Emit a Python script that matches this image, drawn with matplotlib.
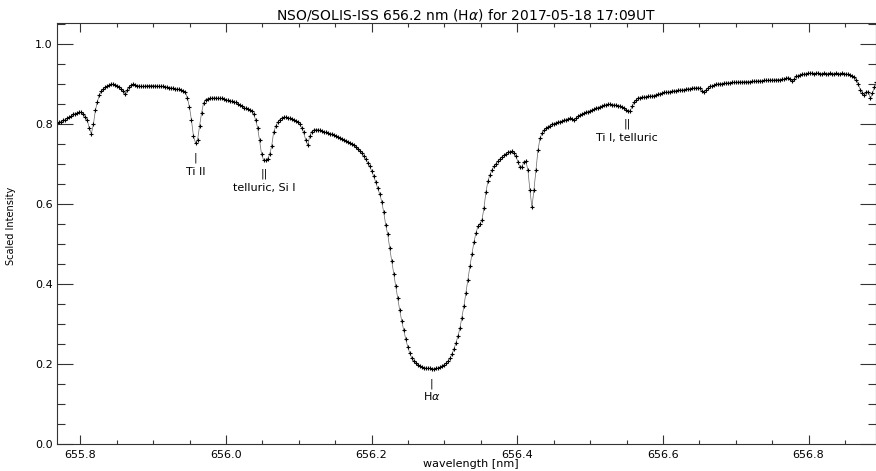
import numpy as np
import matplotlib
matplotlib.use("Agg")
import matplotlib.pyplot as plt
from matplotlib.ticker import MultipleLocator

# Hα spectrum: evenly sampled wavelength grid, scaled intensity per sample
wl_start = 655.7684   # nm
wl_step = 0.00275     # nm per sample
intensity = [
    0.804, 0.806, 0.807, 0.810, 0.812, 0.816, 0.818, 0.821, 0.825, 0.827,
    0.829, 0.831, 0.830, 0.825, 0.819, 0.810, 0.790, 0.777, 0.800, 0.835,
    0.857, 0.874, 0.883, 0.889, 0.893, 0.896, 0.898, 0.900, 0.900, 0.899,
    0.897, 0.894, 0.889, 0.883, 0.875, 0.886, 0.894, 0.898, 0.900, 0.899,
    0.897, 0.896, 0.895, 0.895, 0.896, 0.897, 0.897, 0.897, 0.897, 0.896,
    0.896, 0.895, 0.895, 0.895, 0.894, 0.893, 0.892, 0.891, 0.890, 0.889,
    0.888, 0.888, 0.886, 0.884, 0.880, 0.865, 0.843, 0.810, 0.770, 0.754,
    0.760, 0.795, 0.828, 0.853, 0.862, 0.864, 0.865, 0.865, 0.866, 0.866,
    0.865, 0.865, 0.865, 0.864, 0.862, 0.860, 0.859, 0.858, 0.856, 0.855,
    0.852, 0.849, 0.846, 0.842, 0.840, 0.838, 0.836, 0.834, 0.826, 0.812,
    0.792, 0.760, 0.725, 0.711, 0.710, 0.714, 0.725, 0.745, 0.780, 0.795,
    0.805, 0.812, 0.816, 0.818, 0.818, 0.817, 0.815, 0.813, 0.811, 0.809,
    0.807, 0.800, 0.792, 0.780, 0.762, 0.748, 0.770, 0.782, 0.786, 0.787,
    0.787, 0.785, 0.783, 0.782, 0.780, 0.779, 0.777, 0.776, 0.774, 0.772,
    0.769, 0.766, 0.764, 0.761, 0.759, 0.756, 0.754, 0.751, 0.748, 0.744,
    0.739, 0.734, 0.728, 0.721, 0.713, 0.704, 0.695, 0.683, 0.670, 0.656,
    0.640, 0.626, 0.607, 0.580, 0.548, 0.525, 0.490, 0.458, 0.425, 0.395,
    0.365, 0.335, 0.308, 0.285, 0.263, 0.244, 0.228, 0.216, 0.208, 0.203,
    0.199, 0.196, 0.194, 0.192, 0.191, 0.190, 0.190, 0.189, 0.189, 0.190,
    0.191, 0.193, 0.196, 0.199, 0.203, 0.208, 0.215, 0.225, 0.238, 0.253,
    0.270, 0.290, 0.317, 0.345, 0.378, 0.412, 0.445, 0.475, 0.505, 0.528,
    0.545, 0.552, 0.560, 0.590, 0.630, 0.658, 0.674, 0.686, 0.695, 0.702,
    0.708, 0.714, 0.719, 0.723, 0.727, 0.730, 0.732, 0.733, 0.728, 0.720,
    0.707, 0.693, 0.694, 0.707, 0.708, 0.685, 0.635, 0.593, 0.637, 0.685,
    0.735, 0.765, 0.778, 0.785, 0.790, 0.794, 0.797, 0.800, 0.802, 0.804,
    0.806, 0.807, 0.808, 0.810, 0.812, 0.814, 0.815, 0.813, 0.810, 0.816,
    0.820, 0.823, 0.826, 0.828, 0.830, 0.832, 0.834, 0.836, 0.838, 0.841,
    0.842, 0.844, 0.846, 0.848, 0.849, 0.850, 0.850, 0.849, 0.849, 0.848,
    0.847, 0.846, 0.843, 0.840, 0.837, 0.833, 0.834, 0.845, 0.855, 0.861,
    0.866, 0.867, 0.868, 0.868, 0.869, 0.870, 0.870, 0.871, 0.872, 0.874,
    0.875, 0.877, 0.878, 0.880, 0.880, 0.881, 0.882, 0.883, 0.884, 0.884,
    0.885, 0.886, 0.886, 0.887, 0.888, 0.889, 0.889, 0.890, 0.891, 0.891,
    0.892, 0.890, 0.884, 0.880, 0.887, 0.892, 0.895, 0.896, 0.898, 0.900,
    0.901, 0.902, 0.902, 0.903, 0.903, 0.904, 0.904, 0.905, 0.905, 0.905,
    0.906, 0.906, 0.906, 0.907, 0.907, 0.907, 0.907, 0.908, 0.908, 0.908,
    0.909, 0.909, 0.909, 0.910, 0.910, 0.910, 0.911, 0.911, 0.911, 0.912,
    0.912, 0.912, 0.913, 0.913, 0.915, 0.917, 0.914, 0.908, 0.914, 0.920,
    0.922, 0.924, 0.925, 0.926, 0.927, 0.928, 0.928, 0.928, 0.927, 0.928,
    0.928, 0.927, 0.927, 0.928, 0.927, 0.927, 0.928, 0.927, 0.927, 0.928,
    0.927, 0.927, 0.928, 0.927, 0.926, 0.925, 0.923, 0.921, 0.918, 0.912,
    0.900, 0.887, 0.879, 0.874, 0.880, 0.882, 0.865, 0.878, 0.893, 0.905,
]
wavelength = wl_start + wl_step * np.arange(len(intensity))

# line identifications: marker text, label, wavelength, marker height, label height
line_ids = [
    ("|", "Ti II", 655.958, 0.717, 0.681),
    ("||", "telluric, Si I", 656.052, 0.676, 0.641),
    ("||", "Ti I, telluric", 656.551, 0.801, 0.766),
    ("|", "H$\\alpha$", 656.282, 0.153, 0.121),
]

fig = plt.figure(figsize=(8.76, 4.71), dpi=100)
ax = fig.add_axes([0.0651, 0.0563, 0.9344, 0.8943])

ax.plot(wavelength, intensity, color="0.4", lw=0.5)
ax.plot(wavelength, intensity, ls="none", marker="+", ms=2.2, mew=0.8, color="black")

for bar, name, wl, y_bar, y_lab in line_ids:
    ax.text(wl, y_bar, bar, ha="center", va="center", fontsize=7.5, color="black")
    ax.text(wl, y_lab, name, ha="center", va="center", fontsize=8, color="black")

ax.set_xlim(655.768, 656.892)
ax.set_ylim(0.0, 1.053)

ax.xaxis.set_major_locator(MultipleLocator(0.2))
ax.xaxis.set_minor_locator(MultipleLocator(0.05))
ax.yaxis.set_major_locator(MultipleLocator(0.2))
ax.yaxis.set_minor_locator(MultipleLocator(0.05))
ax.xaxis.set_major_formatter(plt.FormatStrFormatter("%.1f"))
ax.yaxis.set_major_formatter(plt.FormatStrFormatter("%.1f"))

ax.tick_params(which="both", direction="in", top=True, right=True,
               width=0.8, color="0.2", labelsize=8)
ax.tick_params(axis="x", which="major", length=6.7, pad=4)
ax.tick_params(axis="x", which="minor", length=3.2)
ax.tick_params(axis="y", which="major", length=11.5, pad=3)
ax.tick_params(axis="y", which="minor", length=5.8)

for sp in ax.spines.values():
    sp.set_linewidth(0.8)
    sp.set_color("0.2")

ax.set_title("NSO/SOLIS-ISS 656.2 nm (H$\\alpha$) for 2017-05-18 17:09UT",
             fontsize=10, pad=3, x=0.5)
ax.set_xlabel("wavelength [nm]", fontsize=8, labelpad=0)
ax.xaxis.set_label_coords(0.506, -0.035)
ax.set_ylabel("Scaled Intensity", fontsize=7)
ax.yaxis.set_label_coords(-0.05, 0.52)

fig.savefig("out.png", dpi=100)
